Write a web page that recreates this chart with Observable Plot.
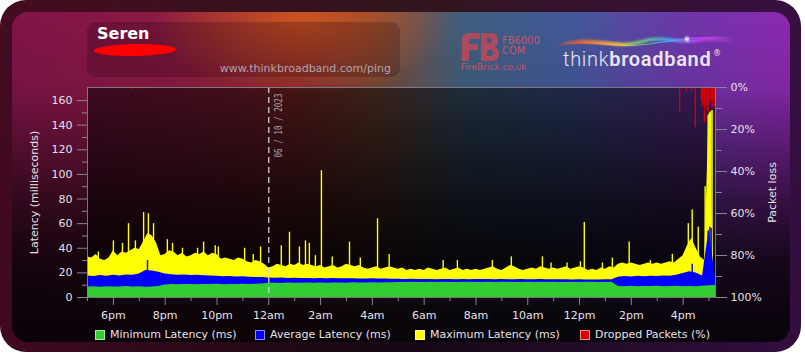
<!DOCTYPE html>
<html>
<head>
<meta charset="utf-8">
<script src="https://cdn.jsdelivr.net/npm/d3@7"></script>
<script src="https://cdn.jsdelivr.net/npm/@observablehq/plot@0.6"></script>
<style>
html,body{margin:0;padding:0;background:#ffffff;}
body{position:relative;width:805px;height:354px;overflow:hidden;font-family:"DejaVu Sans",sans-serif;}
#card{position:absolute;left:0;top:0;width:801px;height:352px;border-radius:26px;
 background:linear-gradient(to right, rgba(70,10,35,0.9), rgba(40,15,40,0.4) 50%, rgba(55,15,70,0.9)),
            linear-gradient(to bottom,#3a1a14 0%,#200a14 40%,#070305 100%);}
#inner{position:absolute;left:12px;top:12px;width:778px;height:330px;border-radius:16px;
 background:
  linear-gradient(to bottom, rgba(6,2,6,0) 0px, rgba(6,2,6,0.08) 75px, rgba(6,2,6,0.35) 130px, rgba(6,2,6,0.65) 190px, rgba(6,2,6,0.88) 250px, rgba(6,2,6,0.96) 310px),
  radial-gradient(ellipse 150px 80px at 290px 5px, rgba(215,90,30,0.85), rgba(215,90,30,0)),
  linear-gradient(to right, #801448 0%, #8a1a42 20%, #922a2e 36%, #7c4a36 47%, #3f5f7e 58%, #42589a 72%, #6c38aa 86%, #8c28b0 100%);}
#titlebox{position:absolute;left:87px;top:22px;width:313px;height:55px;border-radius:9px;background:rgba(25,0,12,0.22);}
#title{position:absolute;left:97px;top:24px;font-weight:bold;font-size:16px;color:#ffffff;}
#scribble{position:absolute;left:94px;top:44px;width:82px;height:12px;border-radius:50%;background:#ff0000;transform:rotate(-1deg);}
#url{position:absolute;left:200px;width:191px;top:62px;text-align:right;font-size:11px;color:#b3a3ab;}
#chart{position:absolute;left:0;top:0;}
#logos{position:absolute;left:0;top:0;}
.leg{position:absolute;top:329px;height:12px;font-size:11px;line-height:12px;color:#e6e0e6;white-space:nowrap;}
.sw{display:inline-block;width:8px;height:8px;border:1px solid rgba(255,255,255,0.55);vertical-align:top;margin-top:1px;margin-right:5px;}
</style>
</head>
<body>
<div id="card"><div id="inner"></div></div>
<div id="titlebox"></div>
<div id="title">Seren</div>
<div id="scribble"></div>
<div id="url">www.thinkbroadband.com/ping</div>
<svg id="logos" width="805" height="90">
  <defs>
    <linearGradient id="rb" x1="555" x2="735" y1="0" y2="0" gradientUnits="userSpaceOnUse">
      <stop offset="0" stop-color="#ff5020" stop-opacity="0"/>
      <stop offset="0.15" stop-color="#ff6a30"/>
      <stop offset="0.35" stop-color="#ffcf40"/>
      <stop offset="0.5" stop-color="#60e080"/>
      <stop offset="0.62" stop-color="#40c0ff"/>
      <stop offset="0.8" stop-color="#d040ff"/>
      <stop offset="1" stop-color="#ff60ff" stop-opacity="0"/>
    </linearGradient>
    <filter id="bl" x="-10%" y="-50%" width="120%" height="200%"><feGaussianBlur stdDeviation="1.3"/></filter>
  </defs>
  <path d="M556,46 C590,34 615,50 640,42 C665,34 680,45 700,40 C715,37 725,42 735,40" stroke="url(#rb)" stroke-width="3.2" fill="none" filter="url(#bl)" opacity="0.9"/>
  <path d="M562,44 C590,40 612,47 640,45 C665,43 690,35 733,38" stroke="url(#rb)" stroke-width="1.2" fill="none" opacity="0.8"/>
  <circle cx="687" cy="39" r="2.2" fill="#ffffff" filter="url(#bl)"/>
  <text x="563" y="66" font-family="Roboto, 'Open Sans', sans-serif" font-size="20" letter-spacing="0.7" fill="#ece6f2"><tspan font-weight="300">think</tspan><tspan font-weight="600">broadband</tspan></text>
  <text x="713" y="56" font-family="DejaVu Sans" font-size="8" fill="#ece6f2">®</text>
  <g fill="#c0485a" opacity="0.85" fill-rule="evenodd">
    <path d="M462,61 V40 Q462,33 469,33 H480 V39 H469 V44 H478 V50 H469 V61 Z"/>
    <path d="M481,33 H491 Q498,33 498,40 Q498,45 495,47 Q499,49 499,54 Q499,61 491,61 H481 Z M487,38 H490 Q492,38 492,41 Q492,43 490,43 H487 Z M487,50 H491 Q493,50 493,53 Q493,56 491,56 H487 Z"/>
  </g>
  <text x="502" y="44" font-family="DejaVu Sans" font-size="10" fill="#c4566a">FB6000</text>
  <text x="502" y="54" font-family="DejaVu Sans" font-size="10" fill="#c4566a">CQM</text>
  <text x="461" y="70" font-family="DejaVu Sans" font-size="9" fill="#c4566a">FireBrick.co.uk</text>
</svg>
<div id="chart"></div>
<div id="legend"></div>
<script>
// ---------- data ----------
const startTime = "2023-10-05 17:00";
const endTime = "2023-10-06 17:15";
const midnightTime = "2023-10-06 00:00";
const dateLabel = "06 / 10 / 2023";

// maximum latency (ms), one reading every 10 minutes from startTime
const maxStepMinutes = 10;
const maxLatency = [
  33,32,35,31,30,32,38,34,37,36,
  38,40,39,45,52,50,44,34,35,38,
  37,34,36,33,34,36,35,37,34,36,
  35,31,32,31,30,32,31,29,28,30,
  29,27,24,25,27,26,25,27,26,28,
  26,27,26,25,26,24,25,26,24,25,
  27,26,25,26,24,23,24,25,23,24,
  25,24,23,24,22,23,22,23,22,24,
  23,22,23,24,22,23,24,22,23,22,
  23,22,23,24,25,23,22,24,26,25,
  23,22,23,24,23,25,24,23,24,23,
  24,25,23,24,25,24,22,23,22,24,
  23,25,24,27,28,27,28,27,26,27,
  28,27,28,27,28,29,28,31,34,42,
  48,40,33,30,150,30
];
// short spikes in maximum latency [time, ms]
const maxSpikes = [
  ["2023-10-05 17:25",37],["2023-10-05 18:00",46],["2023-10-05 18:21",44],["2023-10-05 18:35",60],
  ["2023-10-05 18:51",46],["2023-10-05 19:10",69],["2023-10-05 19:21",68],["2023-10-05 19:33",60],
  ["2023-10-05 20:05",47],["2023-10-05 20:17",44],["2023-10-05 20:40",40],["2023-10-05 21:15",40],
  ["2023-10-05 21:29",45],["2023-10-05 21:56",42],["2023-10-05 22:03",41],["2023-10-05 23:04",40],
  ["2023-10-05 23:24",35],["2023-10-05 23:41",41],["2023-10-06 00:29",42],["2023-10-06 00:48",53],
  ["2023-10-06 01:11",41],["2023-10-06 01:25",46],["2023-10-06 01:34",44],["2023-10-06 01:48",34],
  ["2023-10-06 02:02",103],["2023-10-06 02:27",33],["2023-10-06 03:07",45],["2023-10-06 03:32",32],
  ["2023-10-06 04:12",64],["2023-10-06 04:39",35],["2023-10-06 06:44",30],["2023-10-06 07:17",30],
  ["2023-10-06 08:38",30],["2023-10-06 09:22",33],["2023-10-06 10:34",33],["2023-10-06 10:54",28],
  ["2023-10-06 11:31",28],["2023-10-06 12:02",29],["2023-10-06 12:11",61],["2023-10-06 12:53",28],
  ["2023-10-06 13:16",32],["2023-10-06 13:55",45],["2023-10-06 14:44",30],["2023-10-06 15:35",35],
  ["2023-10-06 16:12",60],["2023-10-06 16:21",71],["2023-10-06 16:35",57],["2023-10-06 16:51",90],
  ["2023-10-06 16:58",148],["2023-10-06 17:01",150],["2023-10-06 17:04",151],["2023-10-06 17:07",152]
];

// average and minimum latency (ms), one reading every 15 minutes from startTime
const lineStepMinutes = 15;
const avgLatency = [
  17.5,17,17.8,17.2,18,17.5,18.2,18,19,22,
  21.5,20.5,19,18.5,18,18.3,17.8,18,17.6,17.5,
  17.2,16.8,17,16.6,16.8,16.5,16.3,16.2,15.8,15.6,
  15.8,15.5,15.6,15.4,15.5,15.3,15.5,15.2,15.4,15.3,
  15.2,15.3,15.1,15,15.2,15.1,15,14.9,14.8,14.7,
  14.8,14.6,14.7,14.6,14.5,14.7,14.6,14.5,14.6,14.5,
  14.6,14.7,14.6,14.5,14.6,14.4,14.5,14.6,14.5,14.4,
  14.6,14.5,14.4,14.5,14.4,14.3,14.4,14.2,14.3,14.2,
  14.4,14.5,16.5,17,16.6,17.2,16.8,17.3,17,17.5,
  17.2,18,19.5,21,20,17.5,55,16
];
const avgSpikes = [
  ["2023-10-05 19:19",30],["2023-10-06 16:21",27],["2023-10-06 16:58",54],
  ["2023-10-06 17:02",57],["2023-10-06 17:05",56]
];
const minLatency = [
  8.5,8.7,8.4,8.8,8.6,8.5,8.9,8.6,8.7,8.3,
  8.6,9,10.2,10.5,10.4,10.6,10.5,10.3,10.6,10.5,
  10.7,10.4,10.6,10.5,10.8,10.6,10.7,10.9,11.5,11.6,
  11.4,11.7,11.5,11.6,11.8,11.5,11.7,11.6,11.8,11.7,
  11.5,11.9,11.8,11.7,12,11.8,11.9,12,12.1,12.2,
  12.3,12.1,12.2,12.4,12.2,12.3,12.1,12.2,12.4,12.3,
  12.2,12.1,12.3,12.2,12.4,12.3,12.2,12.1,12.3,12.2,
  12.4,12.2,12.3,12.1,12.2,12.3,12.2,12.4,12.3,12.2,
  12.1,12.3,9,8.8,9.1,8.7,9,8.9,9.2,8.8,
  9,9.1,8.7,9,8.8,9.2,9.5,9.8
];

// dropped packets [time, %]
const droppedPackets = [
  ["2023-10-05 18:44",0.8],["2023-10-05 18:58",0.8],["2023-10-05 23:17",0.7],["2023-10-06 00:45",0.7],
  ["2023-10-06 09:43",0.8],["2023-10-06 15:52",12],["2023-10-06 16:07",2],["2023-10-06 16:19",1.5],
  ["2023-10-06 16:28",19],["2023-10-06 16:42",6],["2023-10-06 16:44",9],["2023-10-06 16:46",8],
  ["2023-10-06 16:49",17],["2023-10-06 16:51",7],["2023-10-06 16:53",9],["2023-10-06 16:56",11],
  ["2023-10-06 16:58",12],["2023-10-06 17:00",8],["2023-10-06 17:02",6],["2023-10-06 17:05",7],
  ["2023-10-06 17:07",10],["2023-10-06 17:09",6],["2023-10-06 17:12",9],["2023-10-06 17:14",7]
];

// axes
const latencyMax = 170.6;
const latencyTicks = [0,20,40,60,80,100,120,140,160];
const latencyMinorTicks = [10,30,50,70,90,110,130,150];
const lossTicks = [0,20,40,60,80,100];
const lossMinorTicks = [10,30,50,70,90];
const hourTicks = ["2023-10-05 18:00","2023-10-05 20:00","2023-10-05 22:00","2023-10-06 00:00","2023-10-06 02:00","2023-10-06 04:00","2023-10-06 06:00","2023-10-06 08:00","2023-10-06 10:00","2023-10-06 12:00","2023-10-06 14:00","2023-10-06 16:00"];
const hourLabels = ["6pm","8pm","10pm","12am","2am","4am","6am","8am","10am","12pm","2pm","4pm"];
const hourMinorTicks = ["2023-10-05 17:00","2023-10-05 19:00","2023-10-05 21:00","2023-10-05 23:00","2023-10-06 01:00","2023-10-06 03:00","2023-10-06 05:00","2023-10-06 07:00","2023-10-06 09:00","2023-10-06 11:00","2023-10-06 13:00","2023-10-06 15:00","2023-10-06 17:00"];

const legendLabels = ["Minimum Latency (ms)","Average Latency (ms)","Maximum Latency (ms)","Dropped Packets (%)"];
const legendColors = ["#33cc33","#0000ff","#ffff00","#dd0000"];
const legendLeft = [95,255,415,580];

// ---------- build ----------
const parse = d3.utcParse("%Y-%m-%d %H:%M");
const t0 = parse(startTime);
const series = (arr, step) => arr.map((v, i) => ({t: d3.utcMinute.offset(t0, i * step), v}));
const pairs = arr => arr.map(([s, v]) => ({t: parse(s), v}));
const maxRows = series(maxLatency, maxStepMinutes);
const avgRows = series(avgLatency, lineStepMinutes);
const minRows = series(minLatency, lineStepMinutes);
const maxSpikeRows = pairs(maxSpikes);
const avgSpikeRows = pairs(avgSpikes);
const dropRows = pairs(droppedPackets);
const midnight = parse(midnightTime);
const majorX = hourTicks.map(parse);
const minorX = hourMinorTicks.map(parse);
const lossToY = p => latencyMax * (1 - p / 100);

const axisColor = "#8c8490";
const textColor = "#e6e0e6";

const chart = Plot.plot({
  width: 805,
  height: 330,
  marginLeft: 87,
  marginRight: 90,
  marginTop: 87,
  marginBottom: 33,
  x: {type: "utc", domain: [parse(startTime), parse(endTime)], axis: null},
  y: {domain: [0, latencyMax], axis: null},
  style: {background: "transparent", color: textColor, fontFamily: "DejaVu Sans", fontSize: "11px", overflow: "visible"},
  marks: [
    Plot.frame({fill: "#000000", fillOpacity: 0.5}),
    Plot.areaY(maxRows, {x: "t", y: "v", fill: "#ffff00"}),
    Plot.ruleX(maxSpikeRows, {x: "t", y1: () => 0, y2: "v", stroke: "#ffff00", strokeWidth: 1.4}),
    Plot.areaY(avgRows, {x: "t", y: "v", fill: "#0000ff"}),
    Plot.ruleX(avgSpikeRows, {x: "t", y1: () => 0, y2: "v", stroke: "#0000ff", strokeWidth: 1.4}),
    Plot.areaY(minRows, {x: "t", y: "v", fill: "#33cc33"}),
    Plot.ruleX([midnight], {x: d => d, stroke: "#d0d0d0", strokeDasharray: "6,4", strokeWidth: 1.3}),
    Plot.text([dateLabel], {x: () => midnight, y: () => latencyMax, text: d => d, rotate: -90, textAnchor: "end",
      dx: 10, dy: 6, fill: "#a8a0a8", fontFamily: "DejaVu Sans Mono", fontSize: 10}),
    Plot.ruleX(dropRows, {x: "t", y1: () => latencyMax, y2: d => lossToY(d.v), stroke: "#e00000", strokeWidth: 1.2}),
    Plot.frame({stroke: axisColor, strokeOpacity: 0.85}),
    // left axis
    Plot.axisY({anchor: "left", ticks: latencyTicks, tickSize: 10, tickFormat: () => "", color: axisColor, label: null}),
    Plot.axisY({anchor: "left", ticks: latencyMinorTicks, tickSize: 5, tickFormat: () => "", color: axisColor, label: null}),
    Plot.axisY({anchor: "left", ticks: latencyTicks, tickSize: 0, tickPadding: 15, color: textColor, label: null}),
    // right axis
    Plot.axisY({anchor: "right", ticks: lossTicks.map(lossToY), tickSize: 11, tickFormat: () => "", color: axisColor, label: null}),
    Plot.axisY({anchor: "right", ticks: lossMinorTicks.map(lossToY), tickSize: 6, tickFormat: () => "", color: axisColor, label: null}),
    Plot.axisY({anchor: "right", ticks: lossTicks.map(lossToY), tickSize: 0, tickPadding: 15, color: textColor, label: null,
      tickFormat: v => lossTicks[lossTicks.map(lossToY).indexOf(v)] + "%"}),
    // x axis
    Plot.axisX({anchor: "bottom", ticks: majorX, tickSize: 8, tickFormat: () => "", color: axisColor, label: null}),
    Plot.axisX({anchor: "bottom", ticks: minorX.filter(d => d >= t0 && d <= parse(endTime)), tickSize: 4, tickFormat: () => "", color: axisColor, label: null}),
    Plot.axisX({anchor: "bottom", ticks: majorX, tickSize: 0, tickPadding: 14, color: textColor, label: null,
      tickFormat: d => hourLabels[majorX.findIndex(m => +m === +d)]}),
    // axis titles
    Plot.text(["Latency (milliseconds)"], {frameAnchor: "left", text: d => d, rotate: -90, textAnchor: "middle", dx: -53, fill: textColor, fontSize: 11}),
    Plot.text(["Packet loss"], {frameAnchor: "right", text: d => d, rotate: -90, textAnchor: "middle", dx: 57, fill: textColor, fontSize: 11})
  ]
});

chart.querySelectorAll("text").forEach(t => {
  if (t.textContent === dateLabel) {
    t.setAttribute("textLength", "64");
    t.setAttribute("lengthAdjust", "spacingAndGlyphs");
  }
});
document.getElementById("chart").appendChild(chart);

const legend = document.getElementById("legend");
legendLabels.forEach((label, i) => {
  const item = document.createElement("div");
  item.className = "leg";
  item.style.left = legendLeft[i] + "px";
  const sw = document.createElement("span");
  sw.className = "sw";
  sw.style.background = legendColors[i];
  item.appendChild(sw);
  item.appendChild(document.createTextNode(label));
  legend.appendChild(item);
});
</script>
</body>
</html>
